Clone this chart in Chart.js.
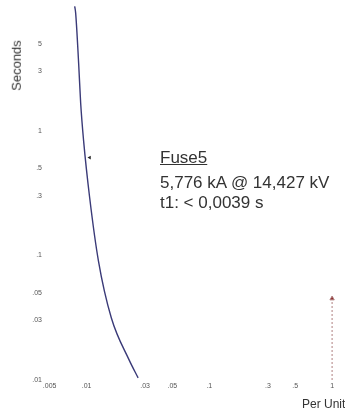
<!DOCTYPE html>
<html>
<head>
<meta charset="utf-8">
<script src="https://cdn.jsdelivr.net/npm/chart.js@4"></script>
<style>
  html, body { margin: 0; padding: 0; background: #fff; }
  #wrap { position: relative; width: 345px; height: 414px; font-family: "Liberation Sans", Arial, sans-serif; }
  #wrap canvas { position: absolute; left: 0; top: 0; }
  .lbl { position: absolute; color: #333; white-space: nowrap; }
</style>
</head>
<body>
<div id="wrap">
  <canvas id="tcc"></canvas>
  <div class="lbl" style="left:-9px; top:58px; font-size:13px; transform:rotate(-90deg);">Seconds</div>
  <div class="lbl" style="left:302px; top:397px; font-size:12px;">Per Unit</div>
  <div class="lbl" style="left:160px; top:148px; font-size:17px; text-decoration:underline;">Fuse5</div>
  <div class="lbl" style="left:160px; top:173px; font-size:17px;">5,776 kA @ 14,427 kV</div>
  <div class="lbl" style="left:160px; top:193px; font-size:17px;">t1: &lt; 0,0039 s</div>
</div>
<script>
// Kurva fuse (per unit vs detik)
var curveX = [0.00800, 0.00815, 0.00862, 0.00895, 0.00946, 0.0106, 0.0125, 0.0159, 0.0222, 0.0263];
var curveY = [10, 8.8, 3.47, 1.67, 0.83, 0.29, 0.09, 0.0316, 0.0145, 0.0104];

// Titik penanda di kurva
var markX = [0.0106];
var markY = [0.61];

// Garis arus gangguan (putus-putus)
var faultX = [1, 1];
var faultY = [0.01, 0.045];

// Label sumbu
var xTicks = [0.005, 0.01, 0.03, 0.05, 0.1, 0.3, 0.5, 1];
var xTickLabels = ['.005', '.01', '.03', '.05', '.1', '.3', '.5', '1'];
var yTicks = [0.01, 0.03, 0.05, 0.1, 0.3, 0.5, 1, 3, 5];
var yTickLabels = ['.01', '.03', '.05', '.1', '.3', '.5', '1', '3', '5'];

function toPoints(xs, ys) {
    return xs.map(function(x, i) { return { x: x, y: ys[i] }; });
}

var ctx = document.getElementById('tcc').getContext('2d');
var chart = new Chart(ctx, {
    type: 'scatter',
    data: {
        datasets: [{
            data: toPoints(curveX, curveY),
            showLine: true,
            borderColor: '#3a3a78',
            borderWidth: 1.4,
            pointRadius: 0,
            cubicInterpolationMode: 'monotone'
        }, {
            data: toPoints(markX, markY),
            pointStyle: 'triangle',
            rotation: -90,
            pointRadius: 2.2,
            backgroundColor: '#222',
            borderColor: '#222',
            borderWidth: 0
        }, {
            data: toPoints(faultX, faultY),
            showLine: true,
            borderColor: '#b08080',
            borderWidth: 1,
            borderDash: [2, 2],
            pointStyle: 'triangle',
            pointRadius: [0, 2.5],
            backgroundColor: '#8a2a2a'
        }]
    },
    options: {
        responsive: true,
        maintainAspectRatio: false,
        animation: false,
        layout: { padding: { top: 2, right: 2, left: 0, bottom: 0 } },
        scales: {
            x: {
                type: 'logarithmic',
                min: 0.0045,
                max: 1.16,
                grid: { display: false, drawTicks: false },
                border: { display: false },
                afterBuildTicks: function(axis) {
                    axis.ticks = xTicks.map(function(v) { return { value: v }; });
                },
                afterFit: function(axis) { axis.height = 34; },
                ticks: {
                    padding: 2,
                    autoSkip: false,
                    maxRotation: 0,
                    color: '#555',
                    font: { family: 'Liberation Sans', size: 7 },
                    callback: function(v) {
                        var i = xTicks.indexOf(v);
                        return i >= 0 ? xTickLabels[i] : '';
                    }
                }
            },
            y: {
                type: 'logarithmic',
                min: 0.01,
                max: 10,
                grid: { display: false, drawTicks: false },
                border: { display: false },
                afterBuildTicks: function(axis) {
                    axis.ticks = yTicks.map(function(v) { return { value: v }; });
                },
                afterFit: function(axis) { axis.width = 44; },
                ticks: {
                    padding: 2,
                    autoSkip: false,
                    color: '#555',
                    font: { family: 'Liberation Sans', size: 7 },
                    callback: function(v) {
                        var i = yTicks.indexOf(v);
                        return i >= 0 ? yTickLabels[i] : '';
                    }
                }
            }
        },
        plugins: {
            legend: { display: false },
            tooltip: { enabled: false }
        }
    }
});
</script>
</body>
</html>
